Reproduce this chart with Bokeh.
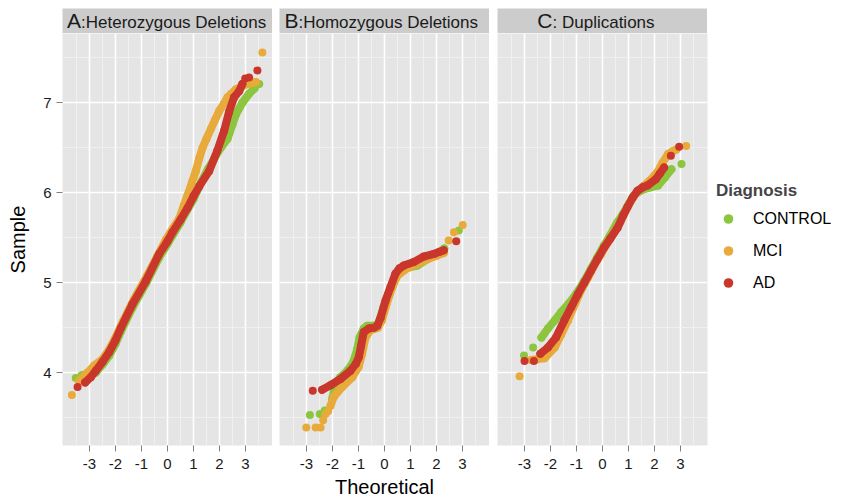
from bokeh.plotting import figure
from bokeh.layouts import row, column
from bokeh.models import Range1d, FixedTicker, Legend, LegendItem
from bokeh.core.properties import value
from bokeh.embed import file_html
from bokeh.resources import INLINE

# ---------------- data ----------------
GROUPS = ["CONTROL", "MCI", "AD"]
PANEL_LETTERS = ["A", "B", "C"]
PANEL_NAMES = [":Heterozygous Deletions", ":Homozygous Deletions", ": Duplications"]
LEGEND_TITLE = "Diagnosis"
X_TITLE = "Theoretical"
Y_TITLE = "Sample"

X_TICKS = [-3, -2, -1, 0, 1, 2, 3]
X_TICK_LABELS = ["-3", "-2", "-1", "0", "1", "2", "3"]
X_MINOR = [-3.5, -2.5, -1.5, -0.5, 0.5, 1.5, 2.5, 3.5]
Y_TICKS = [4, 5, 6, 7]
Y_TICK_LABELS = ["4", "5", "6", "7"]
Y_MINOR = [3.5, 4.5, 5.5, 6.5, 7.5]
X_LIMITS = [-4.04, 4.04]
Y_LIMITS = [3.19, 7.77]

# Panel A: Heterozygous Deletions
HET_CONTROL_T = [-3.30, -3.05, -2.76, -2.50, -2.24, -2.00, -1.79, -1.35, -0.83, -0.32, 0.00, 0.50,
                 1.00, 1.30, 1.55, 1.80, 2.05, 2.31, 2.50, 2.63, 2.88, 3.14, 3.35]
HET_CONTROL_S = [3.97, 3.99, 4.00, 4.09, 4.19, 4.32, 4.46, 4.72, 4.99, 5.28, 5.43, 5.67,
                 5.93, 6.12, 6.26, 6.38, 6.50, 6.60, 6.76, 6.87, 7.00, 7.10, 7.16]
HET_CONTROL_TAIL_T = [-3.53, 3.53]
HET_CONTROL_TAIL_S = [3.94, 7.21]

HET_MCI_T = [-3.40, -3.08, -2.82, -2.50, -2.24, -2.00, -1.73, -1.30, -0.80, -0.40, -0.06, 0.20,
             0.45, 0.63, 0.77, 0.95, 1.09, 1.22, 1.35, 1.50, 1.67, 1.83, 1.99, 2.17, 2.31, 2.45,
             2.63, 2.85, 3.08, 3.25, 3.40]
HET_MCI_S = [3.91, 4.00, 4.08, 4.15, 4.26, 4.39, 4.56, 4.81, 5.07, 5.29, 5.48, 5.60,
             5.71, 5.86, 5.97, 6.12, 6.24, 6.38, 6.50, 6.60, 6.71, 6.81, 6.91, 6.99, 7.06, 7.10,
             7.15, 7.18, 7.21, 7.22, 7.23]
HET_MCI_TAIL_T = [-3.68, 3.65]
HET_MCI_TAIL_S = [3.75, 7.56]

HET_AD_T = [-3.17, -2.95, -2.76, -2.50, -2.24, -2.00, -1.79, -1.35, -0.83, -0.32, 0.00, 0.19,
            0.50, 0.77, 1.00, 1.22, 1.60, 1.92, 2.18, 2.37, 2.56, 2.76, 2.88]
HET_AD_S = [3.89, 3.95, 4.02, 4.12, 4.23, 4.36, 4.50, 4.76, 5.02, 5.32, 5.46, 5.56,
            5.70, 5.83, 5.96, 6.07, 6.24, 6.47, 6.69, 6.90, 7.06, 7.13, 7.21]
HET_AD_TAIL_T = [-3.46, 2.99, 3.14, 3.46]
HET_AD_TAIL_S = [3.84, 7.27, 7.28, 7.36]

# Panel B: Homozygous Deletions
HOM_CONTROL_T = [-2.01, -1.88, -1.70, -1.43, -1.20, -1.05, -0.96, -0.80, -0.67, -0.45, -0.25, -0.05,
                 0.15, 0.35, 0.55, 0.80, 1.26, 1.70, 2.00, 2.30]
HOM_CONTROL_S = [3.71, 3.88, 3.95, 4.02, 4.12, 4.26, 4.39, 4.49, 4.52, 4.52, 4.53, 4.72,
                 4.88, 5.03, 5.12, 5.16, 5.19, 5.27, 5.32, 5.38]
HOM_CONTROL_TAIL_T = [-2.87, -2.49, -2.30, 2.86]
HOM_CONTROL_TAIL_S = [3.53, 3.54, 3.58, 5.58]

HOM_MCI_T = [-2.08, -1.95, -1.63, -1.24, -1.00, -0.86, -0.73, -0.55, -0.25, -0.10, 0.10, 0.30,
             0.50, 0.87, 1.25, 1.64, 2.00, 2.28]
HOM_MCI_S = [3.63, 3.73, 3.84, 3.95, 4.06, 4.21, 4.39, 4.47, 4.50, 4.58, 4.78, 4.95,
             5.08, 5.16, 5.21, 5.26, 5.30, 5.33]
HOM_MCI_TAIL_T = [-3.01, -2.65, -2.46, -2.36, -2.27, -2.17, 2.47, 2.67, 3.01]
HOM_MCI_TAIL_S = [3.39, 3.39, 3.39, 3.47, 3.54, 3.57, 5.47, 5.56, 5.64]

HOM_AD_T = [-2.40, -2.08, -1.69, -1.31, -1.10, -0.99, -0.90, -0.80, -0.60, -0.40, -0.28, -0.15,
            0.04, 0.23, 0.42, 0.58, 0.74, 1.13, 1.51, 1.90, 2.10, 2.28]
HOM_AD_S = [3.81, 3.86, 3.93, 4.02, 4.10, 4.17, 4.30, 4.45, 4.49, 4.50, 4.52, 4.61,
            4.80, 4.95, 5.10, 5.16, 5.19, 5.23, 5.29, 5.32, 5.34, 5.36]
HOM_AD_TAIL_T = [-2.76, 2.76]
HOM_AD_TAIL_S = [3.80, 5.46]

# Panel C: Duplications
DUP_CONTROL_T = [-2.35, -2.10, -1.84, -1.60, -1.32, -1.00, -0.70, -0.45, -0.20, 0.05, 0.30, 0.55,
                 0.80, 1.00, 1.20, 1.40, 1.60, 1.85, 2.14, 2.40, 2.65]
DUP_CONTROL_S = [4.39, 4.49, 4.58, 4.67, 4.76, 4.88, 5.02, 5.15, 5.28, 5.41, 5.53, 5.66,
                 5.77, 5.87, 5.97, 6.01, 6.04, 6.06, 6.08, 6.17, 6.26]
DUP_CONTROL_TAIL_T = [-3.02, -2.67, 3.04]
DUP_CONTROL_TAIL_S = [4.19, 4.28, 6.32]

DUP_MCI_T = [-2.74, -2.50, -2.23, -1.84, -1.60, -1.33, -1.05, -0.80, -0.55, -0.30, -0.05, 0.20,
             0.45, 0.70, 1.00, 1.20, 1.40, 1.60, 1.80, 2.00, 2.14, 2.30, 2.52, 2.70, 2.84]
DUP_MCI_S = [4.14, 4.15, 4.16, 4.28, 4.42, 4.58, 4.77, 4.93, 5.06, 5.20, 5.32, 5.45,
             5.56, 5.68, 5.86, 5.96, 6.03, 6.08, 6.13, 6.19, 6.24, 6.33, 6.43, 6.46, 6.48]
DUP_MCI_TAIL_T = [-3.19, 3.22]
DUP_MCI_TAIL_S = [3.96, 6.52]

DUP_AD_T = [-2.39, -2.10, -1.79, -1.47, -1.20, -0.95, -0.70, -0.45, -0.20, 0.06, 0.30, 0.58,
            0.80, 0.96, 1.15, 1.34, 1.55, 1.73, 2.05, 2.20, 2.37]
DUP_AD_S = [4.21, 4.28, 4.39, 4.58, 4.73, 4.87, 5.00, 5.13, 5.26, 5.39, 5.49, 5.61,
            5.75, 5.84, 5.94, 6.02, 6.06, 6.08, 6.15, 6.21, 6.28]
DUP_AD_TAIL_T = [-3.00, -2.64, 2.63, 2.95]
DUP_AD_TAIL_S = [4.13, 4.13, 6.41, 6.51]

# ---------------- style ----------------
FONT = "Liberation Sans"
COLORS = {"CONTROL": "#8CC63F", "MCI": "#E8AA3A", "AD": "#C9372C"}
PANEL_BG = "#E5E5E5"
STRIP_BG = "#CCCCCC"
KEY_BG = "#F2F2F2"
TEXT_COLOR = "#1a1a1a"
TICK_COLOR = "#7F7F7F"
FRAME_W, FRAME_H, STRIP_H = 210, 412, 25
TOP_GAP = 8

PANELS = [
    [("CONTROL", HET_CONTROL_T, HET_CONTROL_S, HET_CONTROL_TAIL_T, HET_CONTROL_TAIL_S),
     ("MCI", HET_MCI_T, HET_MCI_S, HET_MCI_TAIL_T, HET_MCI_TAIL_S),
     ("AD", HET_AD_T, HET_AD_S, HET_AD_TAIL_T, HET_AD_TAIL_S)],
    [("CONTROL", HOM_CONTROL_T, HOM_CONTROL_S, HOM_CONTROL_TAIL_T, HOM_CONTROL_TAIL_S),
     ("MCI", HOM_MCI_T, HOM_MCI_S, HOM_MCI_TAIL_T, HOM_MCI_TAIL_S),
     ("AD", HOM_AD_T, HOM_AD_S, HOM_AD_TAIL_T, HOM_AD_TAIL_S)],
    [("CONTROL", DUP_CONTROL_T, DUP_CONTROL_S, DUP_CONTROL_TAIL_T, DUP_CONTROL_TAIL_S),
     ("MCI", DUP_MCI_T, DUP_MCI_S, DUP_MCI_TAIL_T, DUP_MCI_TAIL_S),
     ("AD", DUP_AD_T, DUP_AD_S, DUP_AD_TAIL_T, DUP_AD_TAIL_S)],
]
BORDER_LEFT = [62, 7, 8]
STRIP_SPLIT = [18.5, 19, 55]


def style_axis(ax, ticks, labels, minor):
    ax.ticker = FixedTicker(ticks=ticks, minor_ticks=minor)
    ax.major_label_overrides = dict(zip(ticks, labels))
    ax.axis_line_color = None
    ax.major_tick_line_color = TICK_COLOR
    ax.major_tick_out = 6
    ax.major_tick_in = 0
    ax.minor_tick_line_color = None
    ax.major_label_text_font = FONT
    ax.major_label_text_font_size = "15px"
    ax.major_label_text_color = TEXT_COLOR
    ax.axis_label_text_font = FONT
    ax.axis_label_text_font_size = "20px"
    ax.axis_label_text_font_style = "normal"
    ax.axis_label_text_color = "black"


def make_strip(i):
    s = figure(frame_width=FRAME_W, frame_height=STRIP_H,
               x_range=Range1d(0, FRAME_W), y_range=Range1d(0, STRIP_H),
               x_axis_location=None, y_axis_location=None,
               output_backend="svg", toolbar_location=None,
               min_border_left=BORDER_LEFT[i], min_border_right=0,
               min_border_top=TOP_GAP, min_border_bottom=0,
               background_fill_color=STRIP_BG, border_fill_color="white",
               outline_line_color=None)
    s.grid.visible = False
    s.text(x=[STRIP_SPLIT[i]], y=[13], text=[PANEL_LETTERS[i]],
           text_align="right", text_baseline="middle",
           text_font=value(FONT), text_font_size="21px", text_color=TEXT_COLOR)
    s.text(x=[STRIP_SPLIT[i]], y=[11.5], text=[PANEL_NAMES[i]],
           text_align="left", text_baseline="middle",
           text_font=value(FONT), text_font_size="17px", text_color=TEXT_COLOR)
    return s


def make_panel(i):
    p = figure(frame_width=FRAME_W, frame_height=FRAME_H,
               x_range=Range1d(*X_LIMITS), y_range=Range1d(*Y_LIMITS),
               y_axis_location="left" if i == 0 else None,
               output_backend="svg", toolbar_location=None,
               min_border_left=BORDER_LEFT[i], min_border_right=0,
               min_border_top=0, min_border_bottom=0,
               background_fill_color=PANEL_BG, border_fill_color="white",
               outline_line_color=None)
    style_axis(p.xaxis[0], X_TICKS, X_TICK_LABELS, X_MINOR)
    p.xaxis.major_label_standoff = 7
    if i == 1:
        p.xaxis.axis_label = X_TITLE
        p.xaxis.axis_label_standoff = 4
    if i == 0:
        style_axis(p.yaxis[0], Y_TICKS, Y_TICK_LABELS, Y_MINOR)
        p.yaxis.axis_label = Y_TITLE
        p.yaxis.major_label_standoff = 5
        p.yaxis.axis_label_standoff = 11
    p.xgrid.ticker = FixedTicker(ticks=X_TICKS, minor_ticks=X_MINOR)
    p.ygrid.ticker = FixedTicker(ticks=Y_TICKS, minor_ticks=Y_MINOR)
    p.grid.grid_line_color = "white"
    p.grid.grid_line_width = 1.6
    p.grid.minor_grid_line_color = "#F2F2F2"
    p.grid.minor_grid_line_width = 0.8

    dots = {}
    for g, t, s, tt, ts in PANELS[i]:
        c = COLORS[g]
        p.line(t, s, line_color=c, line_width=8, line_cap="round", line_join="round")
        dots[g] = p.scatter(t + tt, s + ts, size=8, fill_color=c, line_color=None)
    return p, dots


strips = [make_strip(i) for i in range(3)]
panels = []
for i in range(3):
    p, dots = make_panel(i)
    panels.append(p)
    if i == 2:
        key_bg = p.rect(x=[], y=[], width=1, height=1, fill_color=KEY_BG, line_color=None)
        items = [LegendItem(label=g, renderers=[key_bg, dots[g]]) for g in GROUPS]
        legend = Legend(items=items, location="center_left", title=LEGEND_TITLE,
                        title_text_font=FONT, title_text_font_style="bold",
                        title_text_font_size="17px", title_standoff=3,
                        label_text_font=FONT, label_text_font_size="16px",
                        label_text_color="black", label_standoff=13,
                        glyph_width=24, glyph_height=29, spacing=3,
                        padding=0, margin=9, border_line_color=None,
                        background_fill_alpha=0)
        p.add_layout(legend, "right")

layout = column(row(*strips, spacing=0), row(*panels, spacing=0), spacing=0)

with open("out.html", "w") as f:
    f.write(file_html(layout, INLINE))
